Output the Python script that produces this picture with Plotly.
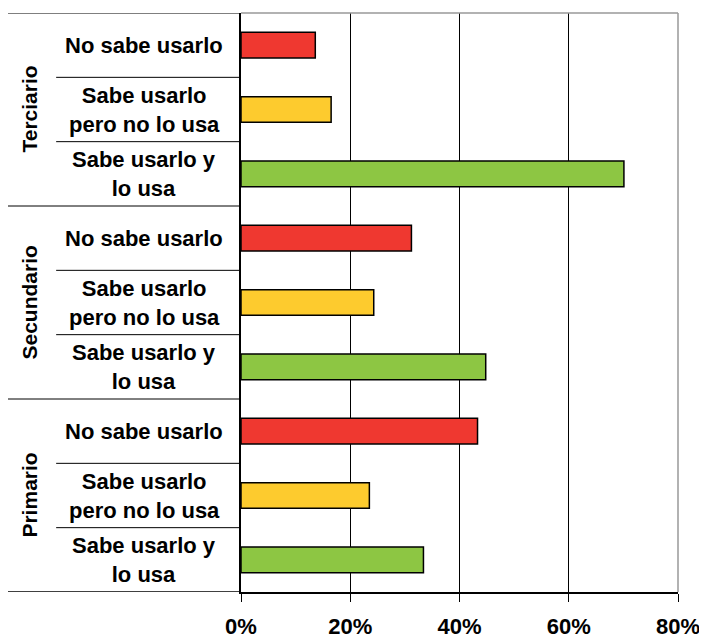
import plotly.graph_objects as go

groups = ["Terciario", "Secundario", "Primario"]
answers = ["No sabe usarlo", "Sabe usarlo<br>pero no lo usa", "Sabe usarlo y<br>lo usa"]
answer_colors = ["#EF3830", "#FDCB2E", "#8DC643"]
terciario = [13.6, 16.5, 70.1]
secundario = [31.2, 24.3, 44.8]
primario = [43.3, 23.5, 33.4]
x_ticks = [0, 20, 40, 60, 80]
x_tick_labels = ["0%", "20%", "40%", "60%", "80%"]

values_by_group = [terciario, secundario, primario]

# y positions: top row = 8, bottom row = 0
ys, xs, cols, labels = [], [], [], []
pos = 8
for g, vals in zip(groups, values_by_group):
    for a, v, c in zip(answers, vals, answer_colors):
        ys.append(pos)
        xs.append(v)
        cols.append(c)
        labels.append(a)
        pos -= 1

FONT = "Liberation Sans, Arial, sans-serif"

fig = go.Figure()
fig.add_trace(go.Bar(
    x=xs, y=ys, orientation="h", width=0.4,
    marker=dict(color=cols, line=dict(color="black", width=1.5)),
    hoverinfo="x",
))

annotations = []
for y, lab in zip(ys, labels):
    annotations.append(dict(
        x=-0.2212, y=y, xref="paper", yref="y", text="<b>" + lab + "</b>",
        showarrow=False, align="center", xanchor="center", yanchor="middle",
        font=dict(family=FONT, size=22, color="black"),
    ))
for i, g in enumerate(groups):
    center = 8 - 3 * i - 1
    annotations.append(dict(
        x=-0.485, y=center, xref="paper", yref="y", text="<b>" + g + "</b>",
        showarrow=False, textangle=-90, xanchor="center", yanchor="middle",
        font=dict(family=FONT, size=21, color="black"),
    ))

shapes = []
# separators in label area
for b in [7.5, 6.5, 4.5, 3.5, 1.5, 0.5]:
    shapes.append(dict(type="line", xref="paper", yref="y", x0=-0.423, x1=0,
                       y0=b, y1=b, line=dict(color="black", width=1)))
for b in [8.5, 5.5, 2.5]:
    shapes.append(dict(type="line", xref="paper", yref="y", x0=-0.534, x1=0,
                       y0=b, y1=b, line=dict(color="black", width=1)))
shapes.append(dict(type="line", xref="paper", yref="y", x0=-0.534, x1=0,
                   y0=-0.5, y1=-0.5, line=dict(color="black", width=1.5)))
# plot area border top and right (gray)
shapes.append(dict(type="line", xref="paper", yref="paper", x0=0, x1=1, y0=1, y1=1,
                   line=dict(color="#999999", width=1.5)))
shapes.append(dict(type="line", xref="paper", yref="paper", x0=1, x1=1, y0=0, y1=1,
                   line=dict(color="#999999", width=1.5)))

fig.update_layout(
    width=699, height=632,
    margin=dict(l=233, r=29, t=5, b=48),
    paper_bgcolor="white", plot_bgcolor="white",
    showlegend=False,
    bargap=0.6,
    annotations=annotations,
    shapes=shapes,
    xaxis=dict(
        range=[0, 80], tickvals=x_ticks, ticktext=["<b>" + t + "</b>" for t in x_tick_labels],
        showgrid=True, gridcolor="black", gridwidth=1,
        showline=True, linecolor="black", linewidth=1.5,
        ticks="outside", ticklen=8, tickcolor="black", tickwidth=1,
        tickfont=dict(family=FONT, size=22, color="black"),
        ticklabelstandoff=6,
        zeroline=False, fixedrange=True, automargin=False,
    ),
    yaxis=dict(
        range=[-0.5, 8.5], showticklabels=False, showgrid=False,
        showline=True, linecolor="black", linewidth=1.5,
        zeroline=False, ticks="", fixedrange=True, automargin=False,
    ),
)

fig.write_html("out.html")
